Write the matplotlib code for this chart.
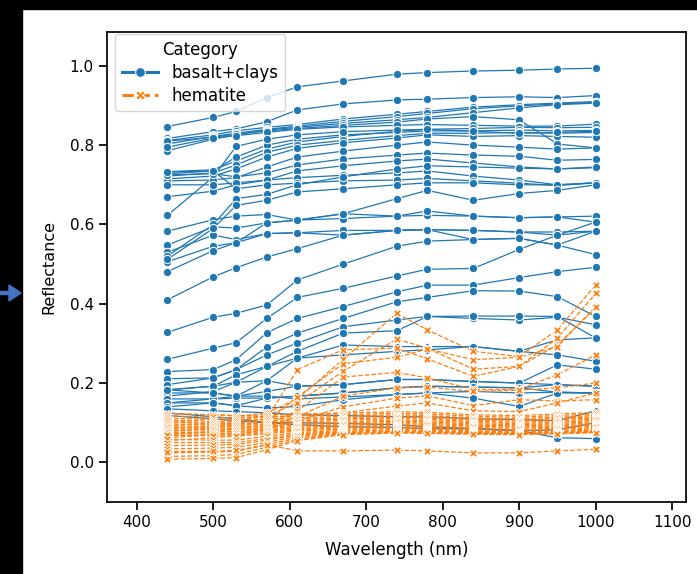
import matplotlib
matplotlib.use("Agg")
import matplotlib.pyplot as plt
from matplotlib.lines import Line2D
from matplotlib.patches import Rectangle, FancyArrow

wavelengths = [440, 500, 530, 570, 610, 670, 740, 780, 840, 900, 950, 1000]

# basalt+clays spectra
basalt = [
    [0.847, 0.870, 0.885, 0.920, 0.947, 0.962, 0.979, 0.983, 0.987, 0.989, 0.992, 0.994],
    [0.817, 0.834, 0.841, 0.859, 0.889, 0.904, 0.914, 0.916, 0.920, 0.922, 0.920, 0.925],
    [0.812, 0.826, 0.836, 0.845, 0.852, 0.866, 0.878, 0.885, 0.896, 0.902, 0.906, 0.910],
    [0.803, 0.822, 0.830, 0.840, 0.848, 0.860, 0.872, 0.880, 0.892, 0.899, 0.904, 0.908],
    [0.786, 0.815, 0.826, 0.838, 0.845, 0.855, 0.864, 0.870, 0.882, 0.894, 0.902, 0.906],
    [0.810, 0.820, 0.828, 0.836, 0.842, 0.850, 0.858, 0.866, 0.872, 0.864, 0.803, 0.793],
    [0.795, 0.818, 0.824, 0.832, 0.840, 0.846, 0.850, 0.852, 0.850, 0.848, 0.848, 0.853],
    [0.733, 0.738, 0.760, 0.790, 0.808, 0.822, 0.835, 0.840, 0.842, 0.845, 0.844, 0.845],
    [0.728, 0.735, 0.770, 0.800, 0.815, 0.826, 0.832, 0.836, 0.836, 0.838, 0.836, 0.837],
    [0.722, 0.730, 0.750, 0.782, 0.800, 0.812, 0.824, 0.830, 0.830, 0.832, 0.830, 0.832],
    [0.715, 0.722, 0.740, 0.770, 0.792, 0.806, 0.818, 0.826, 0.822, 0.824, 0.822, 0.820],
    [0.623, 0.720, 0.797, 0.815, 0.826, 0.834, 0.838, 0.840, 0.835, 0.830, 0.832, 0.835],
    [0.710, 0.712, 0.718, 0.745, 0.770, 0.785, 0.800, 0.808, 0.800, 0.795, 0.790, 0.793],
    [0.725, 0.728, 0.720, 0.730, 0.750, 0.765, 0.775, 0.780, 0.775, 0.772, 0.762, 0.764],
    [0.670, 0.684, 0.700, 0.712, 0.735, 0.748, 0.760, 0.765, 0.755, 0.745, 0.740, 0.743],
    [0.700, 0.700, 0.705, 0.712, 0.718, 0.724, 0.730, 0.735, 0.722, 0.712, 0.700, 0.705],
    [0.732, 0.735, 0.690, 0.700, 0.704, 0.710, 0.712, 0.716, 0.710, 0.704, 0.698, 0.705],
    [0.583, 0.612, 0.621, 0.625, 0.611, 0.627, 0.621, 0.623, 0.621, 0.617, 0.619, 0.621],
    [0.548, 0.594, 0.591, 0.604, 0.611, 0.615, 0.621, 0.634, 0.621, 0.617, 0.619, 0.606],
    [0.530, 0.573, 0.562, 0.577, 0.579, 0.585, 0.585, 0.587, 0.585, 0.581, 0.581, 0.583],
    [0.506, 0.545, 0.554, 0.577, 0.579, 0.573, 0.585, 0.587, 0.585, 0.581, 0.573, 0.583],
    [0.520, 0.600, 0.665, 0.676, 0.700, 0.720, 0.740, 0.748, 0.745, 0.742, 0.740, 0.745],
    [0.512, 0.590, 0.648, 0.661, 0.682, 0.690, 0.700, 0.705, 0.705, 0.700, 0.700, 0.705],
    [0.481, 0.534, 0.554, 0.604, 0.611, 0.627, 0.665, 0.686, 0.661, 0.678, 0.686, 0.700],
    [0.410, 0.468, 0.491, 0.518, 0.539, 0.573, 0.585, 0.587, 0.562, 0.565, 0.548, 0.583],
    [0.328, 0.366, 0.376, 0.397, 0.460, 0.500, 0.545, 0.558, 0.562, 0.565, 0.548, 0.524],
    [0.260, 0.288, 0.302, 0.363, 0.416, 0.439, 0.470, 0.487, 0.489, 0.537, 0.573, 0.606],
    [0.229, 0.234, 0.259, 0.327, 0.363, 0.393, 0.430, 0.447, 0.447, 0.466, 0.481, 0.492],
    [0.211, 0.213, 0.234, 0.291, 0.326, 0.363, 0.405, 0.416, 0.433, 0.432, 0.418, 0.368],
    [0.196, 0.213, 0.234, 0.271, 0.301, 0.342, 0.359, 0.368, 0.363, 0.359, 0.366, 0.347],
    [0.183, 0.192, 0.221, 0.242, 0.280, 0.326, 0.332, 0.368, 0.369, 0.369, 0.368, 0.314],
    [0.167, 0.179, 0.202, 0.242, 0.263, 0.296, 0.292, 0.292, 0.292, 0.280, 0.309, 0.314],
    [0.150, 0.160, 0.167, 0.206, 0.263, 0.271, 0.280, 0.284, 0.292, 0.280, 0.271, 0.255],
    [0.183, 0.192, 0.202, 0.206, 0.192, 0.196, 0.209, 0.209, 0.204, 0.200, 0.246, 0.235],
    [0.175, 0.175, 0.167, 0.179, 0.192, 0.196, 0.209, 0.209, 0.204, 0.200, 0.196, 0.192],
    [0.160, 0.160, 0.162, 0.162, 0.167, 0.175, 0.188, 0.192, 0.190, 0.188, 0.196, 0.192],
    [0.150, 0.150, 0.143, 0.162, 0.167, 0.175, 0.188, 0.192, 0.190, 0.188, 0.177, 0.175],
    [0.140, 0.150, 0.143, 0.137, 0.141, 0.158, 0.171, 0.175, 0.179, 0.175, 0.177, 0.175],
    [0.183, 0.175, 0.167, 0.167, 0.160, 0.165, 0.171, 0.175, 0.162, 0.141, 0.175, 0.175],
    [0.125, 0.115, 0.110, 0.100, 0.100, 0.098, 0.095, 0.090, 0.085, 0.080, 0.062, 0.060],
    [0.118, 0.110, 0.105, 0.100, 0.095, 0.090, 0.088, 0.085, 0.085, 0.080, 0.082, 0.100],
    [0.135, 0.130, 0.128, 0.125, 0.120, 0.118, 0.115, 0.115, 0.110, 0.108, 0.105, 0.130],
]

# hematite spectra
hematite = [
    [0.100, 0.110, 0.115, 0.125, 0.160, 0.260, 0.376, 0.334, 0.280, 0.267, 0.334, 0.447],
    [0.092, 0.100, 0.105, 0.118, 0.150, 0.230, 0.311, 0.288, 0.235, 0.242, 0.313, 0.426],
    [0.085, 0.092, 0.098, 0.110, 0.234, 0.284, 0.288, 0.261, 0.217, 0.242, 0.296, 0.389],
    [0.078, 0.088, 0.092, 0.102, 0.165, 0.249, 0.265, 0.286, 0.259, 0.265, 0.292, 0.393],
    [0.070, 0.078, 0.085, 0.095, 0.130, 0.215, 0.227, 0.213, 0.184, 0.184, 0.221, 0.271],
    [0.062, 0.070, 0.075, 0.090, 0.115, 0.167, 0.188, 0.190, 0.179, 0.182, 0.188, 0.200],
    [0.055, 0.062, 0.068, 0.085, 0.105, 0.140, 0.162, 0.168, 0.143, 0.158, 0.155, 0.158],
    [0.123, 0.120, 0.118, 0.115, 0.118, 0.125, 0.142, 0.150, 0.130, 0.128, 0.150, 0.175],
    [0.123, 0.120, 0.118, 0.120, 0.122, 0.124, 0.128, 0.126, 0.120, 0.118, 0.122, 0.126],
    [0.117, 0.114, 0.112, 0.114, 0.117, 0.120, 0.124, 0.122, 0.116, 0.114, 0.118, 0.122],
    [0.112, 0.108, 0.106, 0.109, 0.113, 0.116, 0.120, 0.118, 0.112, 0.110, 0.114, 0.118],
    [0.107, 0.103, 0.101, 0.104, 0.109, 0.112, 0.117, 0.115, 0.109, 0.107, 0.111, 0.115],
    [0.102, 0.099, 0.097, 0.100, 0.105, 0.109, 0.114, 0.112, 0.106, 0.104, 0.108, 0.112],
    [0.097, 0.095, 0.093, 0.096, 0.101, 0.106, 0.111, 0.109, 0.103, 0.101, 0.105, 0.109],
    [0.092, 0.091, 0.089, 0.092, 0.097, 0.102, 0.107, 0.105, 0.100, 0.098, 0.101, 0.106],
    [0.088, 0.087, 0.085, 0.088, 0.094, 0.099, 0.104, 0.102, 0.097, 0.095, 0.098, 0.103],
    [0.084, 0.083, 0.081, 0.085, 0.091, 0.096, 0.101, 0.099, 0.094, 0.092, 0.095, 0.100],
    [0.080, 0.079, 0.077, 0.081, 0.088, 0.093, 0.098, 0.096, 0.091, 0.089, 0.092, 0.097],
    [0.076, 0.075, 0.073, 0.078, 0.085, 0.090, 0.095, 0.093, 0.088, 0.086, 0.089, 0.094],
    [0.072, 0.071, 0.069, 0.075, 0.082, 0.087, 0.092, 0.090, 0.085, 0.083, 0.086, 0.091],
    [0.068, 0.067, 0.066, 0.072, 0.079, 0.084, 0.089, 0.087, 0.082, 0.080, 0.083, 0.088],
    [0.058, 0.056, 0.056, 0.066, 0.075, 0.081, 0.086, 0.084, 0.079, 0.077, 0.080, 0.085],
    [0.050, 0.050, 0.050, 0.060, 0.072, 0.078, 0.083, 0.081, 0.077, 0.075, 0.078, 0.082],
    [0.042, 0.044, 0.045, 0.056, 0.069, 0.076, 0.080, 0.079, 0.075, 0.074, 0.076, 0.080],
    [0.034, 0.036, 0.038, 0.050, 0.066, 0.075, 0.078, 0.077, 0.074, 0.073, 0.075, 0.078],
    [0.024, 0.026, 0.028, 0.044, 0.062, 0.073, 0.076, 0.075, 0.073, 0.072, 0.074, 0.077],
    [0.015, 0.017, 0.020, 0.038, 0.058, 0.072, 0.075, 0.074, 0.072, 0.071, 0.073, 0.076],
    [0.008, 0.010, 0.012, 0.032, 0.055, 0.070, 0.074, 0.073, 0.071, 0.070, 0.072, 0.075],
    [0.027, 0.028, 0.030, 0.045, 0.029, 0.029, 0.031, 0.029, 0.024, 0.024, 0.029, 0.033],
]

categories = ["basalt+clays", "hematite"]
BLUE = "#1f77b4"
ORANGE = "#ff7f0e"

# notebook-ish sizes
plt.rcParams.update({
    "axes.linewidth": 1.25,
    "xtick.major.size": 6, "ytick.major.size": 6,
    "xtick.major.width": 1.25, "ytick.major.width": 1.25,
    "xtick.labelsize": 11, "ytick.labelsize": 11,
    "axes.labelsize": 12,
})

fig = plt.figure(figsize=(6.97, 5.74), dpi=100)
ax = fig.add_axes([0.1535, 0.1254, 0.8305, 0.8186])

for spec in basalt:
    ax.plot(wavelengths, spec, color=BLUE, lw=0.9, marker="o", ms=6,
            mec="white", mew=0.75)

for spec in hematite:
    ax.plot(wavelengths, spec, color=ORANGE, lw=0.9, ls="--", marker="X",
            ms=6, mec="white", mew=0.75)

ax.set_xlim(361, 1118)
ax.set_ylim(-0.1, 1.085)
ax.set_xticks([400, 500, 600, 700, 800, 900, 1000, 1100])
ax.set_yticks([0.0, 0.2, 0.4, 0.6, 0.8, 1.0])
ax.set_xlabel("Wavelength (nm)", labelpad=7.5)
ax.set_ylabel("Reflectance", fontsize=11.5, labelpad=9.5)

handles = [
    Line2D([], [], color=BLUE, lw=2.2, marker="o", ms=7, mec="white", mew=0.75),
    Line2D([], [], color=ORANGE, lw=2.2, ls="--", marker="X", ms=7, mec="white", mew=0.75),
]
ax.legend(handles, categories, title="Category", loc="upper left",
          bbox_to_anchor=(0.0138, 0.996), borderaxespad=0,
          fontsize=12, title_fontsize=12, handlelength=2.2, labelspacing=0.3)

# screenshot frame: black bands and the blue pointer on the left
fig.patches.append(Rectangle((0, 1 - 9 / 574), 1, 9 / 574, transform=fig.transFigure,
                             color="black", zorder=10))
fig.patches.append(Rectangle((0, 0), 22 / 697, 1, transform=fig.transFigure,
                             color="black", zorder=10))
fig.patches.append(FancyArrow(0, 1 - 293 / 574, 21 / 697, 0, width=3 / 574,
                              head_width=16 / 574, head_length=12 / 697,
                              length_includes_head=True, transform=fig.transFigure,
                              color="#4472c4", zorder=11))

fig.savefig("out.png", dpi=100)
